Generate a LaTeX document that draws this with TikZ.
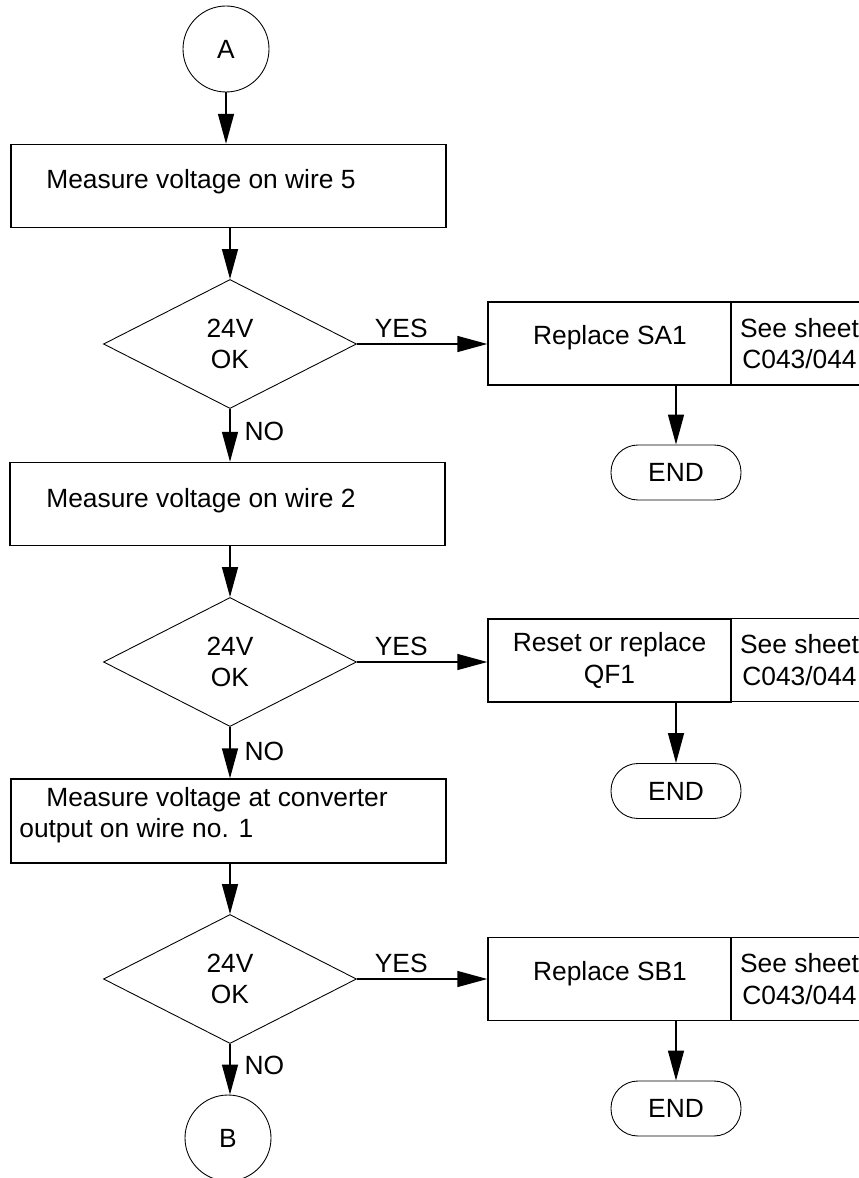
\documentclass[tikz,border=0pt]{standalone}
\usepackage{fontspec}
\setmainfont{Liberation Sans}
\usetikzlibrary{shapes.geometric,arrows.meta}
\begin{document}
\begin{tikzpicture}[
  font=\fontsize{15}{18}\selectfont,
  conn/.style={draw, circle, line width=0.5pt, minimum size=1.72cm, inner sep=0pt},
  action/.style={draw, rectangle, line width=0.8pt, minimum height=1.66cm, inner sep=0pt},
  test/.style={draw, diamond, line width=0.5pt, minimum width=5.06cm, minimum height=2.58cm, inner sep=0pt, align=center},
  stop/.style={draw, rectangle, rounded corners=0.54cm, line width=0.5pt, minimum width=2.6cm, minimum height=1.1cm, inner sep=0pt},
  txt/.style={inner sep=0pt},
  flow/.style={-{Triangle[length=0.6cm,width=0.32cm]}, line width=0.8pt},
]
  \useasboundingbox (0,0) rectangle (17.16,-23.56);
  % left column
  \node[conn] (circA) at (4.52,-0.98) {A};
  \node[action, minimum width=8.7cm] (meas5) at (4.57,-3.72) {};
  \node[txt, anchor=base west] (meas5text) at (0.92,-3.78) {Measure voltage on wire 5};
  \node[test] (dia1) at (4.60,-6.88) {24V\\OK};
  \node[action, minimum width=8.7cm] (meas2) at (4.55,-10.08) {};
  \node[txt, anchor=base west] (meas2text) at (0.92,-10.14) {Measure voltage on wire 2};
  \node[test] (dia2) at (4.60,-13.24) {24V\\OK};
  \node[action, minimum width=8.7cm, minimum height=1.68cm] (meas1) at (4.57,-16.42) {};
  \node[txt, anchor=west, align=left] (meas1text) at (0.38,-16.30)
    {\hspace*{0.54cm}Measure voltage at converter\\output on wire no. 1};
  \node[test] (dia3) at (4.60,-19.58) {24V\\OK};
  \node[conn] (circB) at (4.56,-22.76) {B};
  % right column
  \node[action, minimum width=4.86cm] (repsa) at (12.19,-6.87) {};
  \node[txt, anchor=base] (repsatext) at (12.20,-6.88) {Replace SA1};
  \node[action, minimum width=2.74cm, align=center] (sheet1) at (15.99,-6.87) {See sheet\\C043/044};
  \node[stop] (end1) at (13.52,-9.45) {END};
  \node[action, minimum width=4.86cm, align=center] (resqf) at (12.19,-13.21) {Reset or replace\\QF1};
  \node[action, minimum width=2.74cm, align=center] (sheet2) at (15.99,-13.20) {See sheet\\C043/044};
  \node[stop] (end2) at (13.52,-15.82) {END};
  \node[action, minimum width=4.86cm] (repsb) at (12.19,-19.58) {};
  \node[txt, anchor=base] (repsbtext) at (12.20,-19.60) {Replace SB1};
  \node[action, minimum width=2.74cm, align=center] (sheet3) at (15.99,-19.58) {See sheet\\C043/044};
  \node[stop] (end3) at (13.52,-22.17) {END};
  % connectors
  \draw[flow] (circA.south) -- (circA.south |- meas5.north);
  \draw[flow] (dia1 |- meas5.south) -- (dia1.north);
  \draw[flow] (dia1.south) -- node[txt, right=0.28cm, pos=0.43] (no1) {NO} (dia1.south |- meas2.north);
  \draw[flow] (dia2 |- meas2.south) -- (dia2.north);
  \draw[flow] (dia2.south) -- node[txt, right=0.28cm, pos=0.47] (no2) {NO} (dia2.south |- meas1.north);
  \draw[flow] (dia3 |- meas1.south) -- (dia3.north);
  \draw[flow] (dia3.south) -- node[txt, right=0.28cm, pos=0.43] (no3) {NO} (dia3.south |- circB.north);
  \draw[flow] (dia1.east) -- node[txt, above=3.4pt, pos=0.34] (yes1) {YES} (dia1.east -| repsa.west);
  \draw[flow] (dia2.east) -- node[txt, above=3.4pt, pos=0.34] (yes2) {YES} (dia2.east -| resqf.west);
  \draw[flow] (dia3.east) -- node[txt, above=3.4pt, pos=0.34] (yes3) {YES} (dia3.east -| repsb.west);
  \draw[flow] (end1.north |- repsa.south) -- (end1.north);
  \draw[flow] (end2.north |- resqf.south) -- (end2.north);
  \draw[flow] (end3.north |- repsb.south) -- (end3.north);
\end{tikzpicture}
\end{document}
